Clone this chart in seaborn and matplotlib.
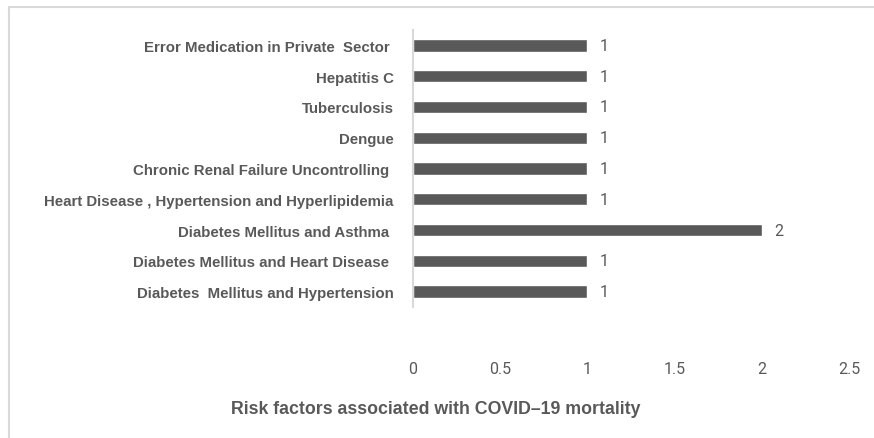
import pandas as pd
import matplotlib.pyplot as plt
import seaborn as sns
from matplotlib.patches import Rectangle

# Data (top to bottom)
risk_factors = [
    "Error Medication in Private  Sector ",
    "Hepatitis C",
    "Tuberculosis",
    "Dengue",
    "Chronic Renal Failure Uncontrolling ",
    "Heart Disease , Hypertension and Hyperlipidemia",
    "Diabetes Mellitus and Asthma ",
    "Diabetes Mellitus and Heart Disease ",
    "Diabetes  Mellitus and Hypertension",
]
deaths = [1, 1, 1, 1, 1, 1, 2, 1, 1]
x_ticks = [0, 0.5, 1, 1.5, 2, 2.5]
x_tick_labels = ["0", "0.5", "1", "1.5", "2", "2.5"]

df = pd.DataFrame({"factor": risk_factors, "deaths": deaths})

sns.set_theme(style="white")
plt.rcParams["font.family"] = ["Liberation Sans", "DejaVu Sans"]

grey = "#595959"
fig = plt.figure(figsize=(8.74, 4.39), dpi=100)
ax = fig.add_axes([413 / 874, 1 - 308 / 439, (849 - 413) / 874, (308 - 31) / 439])

sns.barplot(data=df, x="deaths", y="factor", orient="h", color=grey,
            width=0.4, saturation=1, ax=ax)

for i, v in enumerate(deaths):
    ax.text(v + 0.07, i, str(v), va="center", ha="left", fontsize=11.5,
            color=grey, family=["Roboto", "DejaVu Sans"])

ax.set_xlim(0, 2.5)
ax.set_xticks(x_ticks)
ax.set_xticklabels(x_tick_labels, family=["Roboto", "DejaVu Sans"],
                   fontsize=11.5, color=grey)
ax.tick_params(axis="x", length=0, pad=39)
ax.tick_params(axis="y", length=0, pad=14)
for lbl in ax.get_yticklabels():
    lbl.set_fontweight("bold")
    lbl.set_fontsize(10.8)
    lbl.set_color(grey)

ax.set_xlabel("")
ax.set_ylabel("")
for side in ["top", "right", "bottom"]:
    ax.spines[side].set_visible(False)
ax.spines["left"].set_color("#d9d9d9")
ax.spines["left"].set_linewidth(1.5)

fig.text(0.498, 1 - 410 / 439, "Risk factors associated with COVID\u201319 mortality",
         ha="center", va="center", fontsize=12.8, fontweight="bold", color=grey)

# light chart frame (only left and top edges visible in the crop)
fig.add_artist(Rectangle((9 / 874, -0.5), 2, 1.5 - 8 / 439, transform=fig.transFigure,
                         fill=False, ec="#d9d9d9", lw=1.5))

fig.savefig("out.png", dpi=100)
